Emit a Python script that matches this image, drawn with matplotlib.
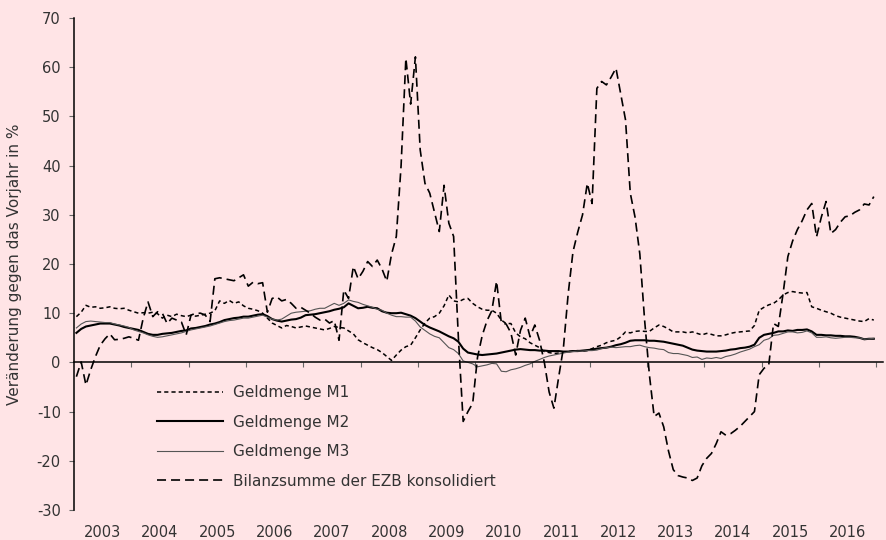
import numpy as np
import matplotlib.pyplot as plt

# monthly values, Jan 2003 - Dec 2016 (one row per year)
years = list(range(2003, 2017))

m1 = [9.3, 10.2, 11.6, 11.2, 11.3, 11.0, 11.1, 11.3, 11.0, 10.9, 11.0, 10.6,
      10.3, 10.0, 10.1, 10.0, 10.2, 9.9, 9.0, 9.6, 9.3, 9.8, 9.5, 9.3,
      9.6, 9.4, 9.6, 9.8, 10.0, 10.5, 12.5, 12.0, 12.6, 12.0, 12.3, 11.5,
      11.0, 10.8, 10.5, 10.0, 9.0, 8.0, 7.5, 7.0, 7.5, 7.3, 7.0, 7.2,
      7.4, 7.2, 7.0, 6.8, 6.6, 6.9, 7.3, 7.1, 7.0, 6.4, 5.8, 4.6,
      4.0, 3.5, 3.0, 2.6, 2.0, 1.2, 0.4, 1.5, 2.5, 3.2, 3.5, 5.0,
      6.6, 8.0, 9.0, 9.3, 10.0, 11.5, 13.7, 12.5, 12.3, 12.8, 13.0, 12.0,
      11.3, 10.8, 10.6, 10.6, 10.0, 8.6, 7.9, 7.9, 6.0, 5.2, 4.8, 4.0,
      3.5, 3.0, 2.2, 2.0, 1.8, 1.9, 2.1, 2.2, 2.3, 2.4, 2.3, 2.4,
      2.8, 3.2, 3.5, 4.0, 4.3, 4.5, 5.2, 6.2, 6.0, 6.3, 6.4, 6.3,
      6.3, 7.0, 7.6, 7.3, 6.8, 6.2, 6.2, 6.2, 6.0, 6.2, 5.9, 5.6,
      5.9, 5.7, 5.4, 5.4, 5.6, 5.9, 6.1, 6.2, 6.3, 6.4, 7.5, 10.6,
      11.2, 11.7, 12.0, 12.7, 13.7, 14.2, 14.4, 14.2, 14.1, 14.2, 11.3, 11.0,
      10.6, 10.3, 10.0, 9.5, 9.2, 9.0, 8.8, 8.6, 8.4, 8.3, 8.9, 8.6]

m2 = [6.0, 6.8, 7.3, 7.5, 7.7, 7.9, 7.9, 7.9, 7.7, 7.5, 7.2, 7.0,
      6.8, 6.6, 6.2, 5.8, 5.6, 5.6, 5.8, 5.9, 6.0, 6.2, 6.4, 6.5,
      6.9, 7.0, 7.2, 7.4, 7.7, 7.9, 8.2, 8.6, 8.8, 9.0, 9.1, 9.3,
      9.3, 9.5, 9.7, 9.8, 9.4, 8.8, 8.5, 8.3, 8.5, 8.7, 8.8, 9.1,
      9.6, 9.7, 9.8, 10.0, 10.2, 10.4, 10.7, 10.9, 11.2, 12.0, 11.5, 11.0,
      11.1, 11.3, 11.1, 11.0, 10.4, 10.1, 10.0, 10.0, 10.1, 9.8, 9.5, 9.0,
      8.3, 7.6, 7.1, 6.7, 6.3, 5.8, 5.3, 4.9, 4.2, 2.8, 2.0, 1.8,
      1.6, 1.5, 1.6, 1.7, 1.8, 2.0, 2.2, 2.4, 2.6, 2.7, 2.6, 2.5,
      2.5, 2.4, 2.4, 2.3, 2.3, 2.3, 2.2, 2.2, 2.3, 2.3, 2.4, 2.5,
      2.6, 2.8, 2.9, 3.0, 3.2, 3.5, 3.7, 4.0, 4.4, 4.5, 4.5, 4.5,
      4.4, 4.4, 4.3, 4.2, 4.0, 3.8, 3.6, 3.4, 3.0, 2.6, 2.4, 2.3,
      2.2, 2.2, 2.2, 2.3, 2.4, 2.6, 2.7, 2.9, 3.0, 3.2, 3.6, 5.0,
      5.6, 5.8, 6.0, 6.3, 6.3, 6.5, 6.4, 6.6, 6.6, 6.7, 6.3, 5.6,
      5.6, 5.5, 5.5, 5.4, 5.4, 5.3, 5.3, 5.2, 5.0, 4.7, 4.8, 4.8]

m3 = [7.0, 7.8, 8.3, 8.4, 8.3, 8.2, 8.1, 8.1, 7.8, 7.6, 7.4, 7.1,
      6.6, 6.3, 6.0, 5.6, 5.3, 5.1, 5.2, 5.4, 5.6, 5.8, 6.0, 6.3,
      6.6, 6.8, 7.0, 7.2, 7.4, 7.7, 8.0, 8.3, 8.5, 8.6, 8.8, 9.0,
      9.0, 9.2, 9.4, 9.6, 9.2, 8.8, 8.6, 8.8, 9.4, 10.0, 10.2, 10.3,
      10.4, 10.5, 10.8, 11.0, 11.0, 11.5, 12.0, 11.6, 12.0, 12.7, 12.4, 12.2,
      11.8, 11.5, 11.2, 10.8, 10.6, 10.0, 9.6, 9.3, 9.3, 9.2, 9.2, 8.4,
      7.2, 6.5, 5.8, 5.3, 5.0, 4.0, 3.0, 2.6, 1.8, 0.3, 0.0, -0.3,
      -0.9, -0.7, -0.5, -0.2, -0.3, -1.8, -1.9, -1.5, -1.3, -1.0, -0.6, -0.3,
      0.2, 0.6, 1.0, 1.3, 1.5, 1.7, 1.9, 2.1, 2.2, 2.3, 2.3, 2.4,
      2.4, 2.5, 2.8, 3.0, 3.1, 3.0, 3.1, 3.2, 3.2, 3.4, 3.5, 3.2,
      3.0, 2.9, 2.7, 2.6, 2.0, 1.8, 1.8, 1.6, 1.4, 1.0, 1.1, 0.6,
      0.9, 0.8, 1.0, 0.8, 1.2, 1.4, 1.7, 2.1, 2.4, 2.7, 3.2, 3.6,
      4.5, 4.8, 5.5, 5.6, 5.9, 6.2, 6.2, 6.0, 6.1, 6.4, 6.0, 5.1,
      5.1, 5.2, 5.0, 4.9, 5.0, 5.1, 5.1, 5.0, 5.0, 4.7, 4.8, 4.9]

ezb = [-2.9, 0.1, -4.6, -1.5, 1.2, 3.5, 4.8, 5.8, 4.6, 4.7, 4.9, 5.2,
       4.9, 4.5, 9.0, 12.3, 9.3, 10.3, 10.0, 7.9, 9.0, 8.6, 8.2, 5.6,
       9.6, 10.0, 10.0, 9.6, 8.3, 17.0, 17.2, 17.0, 16.8, 16.6, 17.2, 17.8,
       15.5, 16.3, 16.0, 16.2, 10.2, 13.0, 13.3, 12.5, 12.8, 12.0, 11.0, 11.2,
       10.6, 10.0, 9.2, 8.6, 8.8, 8.0, 8.5, 4.5, 14.7, 13.0, 19.5, 17.0,
       18.5, 20.5, 19.5, 20.8, 19.0, 16.5, 22.0, 25.6, 40.0, 61.8, 52.5, 62.1,
       43.2, 36.4, 34.4, 30.5, 26.6, 36.0, 28.3, 25.6, 5.0, -12.0, -10.0, -8.3,
       1.0, 5.5, 8.5, 10.5, 16.5, 8.0, 7.8, 6.0, 1.5, 6.5, 9.0, 5.2,
       7.6, 4.5, 0.0, -6.0, -9.3, -3.0, 3.0, 14.0, 22.5, 26.5, 30.0, 36.4,
       32.3, 55.7, 57.1, 56.4, 58.0, 59.8, 54.5, 49.3, 34.4, 29.5, 22.0, 8.6,
       -2.5, -11.0, -10.3, -13.1, -18.0, -21.8, -23.0, -23.3, -23.5, -24.0, -23.5, -21.0,
       -19.5, -18.5, -16.5, -14.1, -14.8, -14.5, -13.8, -13.0, -12.0, -11.0, -10.0, -2.5,
       -1.2, -0.5, 7.9, 7.3, 14.0, 21.5, 24.7, 27.0, 28.8, 31.0, 32.3, 25.5,
       29.5, 32.7, 26.2, 27.0, 28.5, 29.6, 29.8, 30.5, 31.0, 32.2, 32.0, 33.7]

labels = ['Geldmenge M1', 'Geldmenge M2', 'Geldmenge M3',
          'Bilanzsumme der EZB konsolidiert']

# month centres as decimal years
t = years[0] + (np.arange(len(m1)) + 0.5) / 12

plt.rcParams['font.family'] = ['DejaVu Sans']
plt.rcParams['lines.scale_dashes'] = False
plt.rcParams['axes.unicode_minus'] = False
bg = '#FFE4E6'
txt = '#333333'

fig = plt.figure(figsize=(8.86, 5.4), dpi=100, facecolor=bg)
ax = fig.add_axes([74 / 886, 30 / 540, (883 - 74) / 886, 492 / 540])
ax.set_facecolor(bg)

ax.plot(t, m1, color='black', lw=1.1, dashes=(3, 2.2), label=labels[0])
ax.plot(t, m2, color='black', lw=1.5, label=labels[1])
ax.plot(t, m3, color='#555555', lw=0.8, label=labels[2])
ax.plot(t, ezb, color='black', lw=1.2, dashes=(6.5, 3.6), label=labels[3])

ax.set_xlim(2003, 2003 + (883 - 74) / 57.3)
ax.set_ylim(-30, 70)

for s in ['top', 'right']:
    ax.spines[s].set_visible(False)
ax.spines['left'].set_linewidth(1.1)
ax.spines['bottom'].set_position(('data', 0))
ax.spines['bottom'].set_linewidth(1.1)

ax.set_yticks(range(-30, 71, 10))
ax.tick_params(axis='y', direction='out', length=3.5, width=0.8,
               color='#666666', pad=6, labelsize=10.5, labelcolor=txt)
ax.set_xticks(range(2004, 2018))
ax.tick_params(axis='x', direction='out', length=3.5, width=0.8,
               color='#666666', labelbottom=False)

# year labels centred under each year, below the plot
sec = ax.secondary_xaxis('bottom')
sec.set_xticks([y + 0.5 for y in years], labels=[str(y) for y in years])
sec.tick_params(length=0, pad=10.5, labelsize=10.5, labelcolor=txt)
sec.spines['bottom'].set_visible(False)

fig.text(15 / 886, 1 - 264 / 540, 'Veränderung gegen das Vorjahr in %',
         rotation=90, ha='center', va='center', fontsize=11, color=txt)

leg = ax.legend(loc='upper left', bbox_to_anchor=(157 / 886, 1 - 385 / 540),
                bbox_transform=fig.transFigure, frameon=False, fontsize=11,
                handlelength=4.3, handletextpad=0.7, labelspacing=0.95,
                borderpad=0, borderaxespad=0)
for tx in leg.get_texts():
    tx.set_color(txt)

fig.savefig('out.png', dpi=100, facecolor=bg)
